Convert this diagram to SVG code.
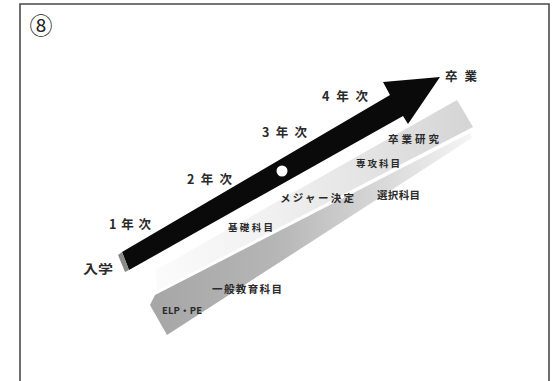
<svg xmlns="http://www.w3.org/2000/svg" width="560" height="381" viewBox="0 0 560 381">
<style>
  .t{font-family:"Noto Sans CJK JP","Noto Sans",sans-serif;font-weight:700;fill:#2a2a2a;dominant-baseline:central}
  .yr{font-size:12.5px}
  .sm{font-size:9.5px}
  .md{font-size:10.5px}
</style>
<defs>
  <linearGradient id="gUpper" gradientUnits="userSpaceOnUse" x1="156" y1="0" x2="473" y2="0">
    <stop offset="0" stop-color="#fbfbfb"/>
    <stop offset="0.35" stop-color="#f1f1f1"/>
    <stop offset="0.7" stop-color="#e2e2e2"/>
    <stop offset="1" stop-color="#d4d4d4"/>
  </linearGradient>
  <linearGradient id="gLower" gradientUnits="userSpaceOnUse" x1="150" y1="0" x2="470" y2="0">
    <stop offset="0" stop-color="#a6a6a6"/>
    <stop offset="0.4" stop-color="#b6b6b6"/>
    <stop offset="0.72" stop-color="#d8d8d8"/>
    <stop offset="1" stop-color="#f4f4f4"/>
  </linearGradient>
</defs>
<rect width="560" height="381" fill="#ffffff"/>
<path d="M20,381 V4 H549 V381" fill="none" stroke="#4a4a4a" stroke-width="1.6"/>
<text x="41" y="24" style="font-family:'Noto Sans CJK JP','DejaVu Sans',sans-serif;font-size:23px;fill:#222" text-anchor="middle" dominant-baseline="central">⑧</text>

<g id="bands">
  <polygon id="upper-band" points="156,270 457,100 473,127 157,291" fill="url(#gUpper)"/>
  <polygon id="lower-band" points="150,305 155,295 470,133 472,138 167,335" fill="url(#gLower)"/>
</g>

<g id="connectors">
  <polygon id="main-arrow" points="122,252 390,95 383,82 440,77 408,124 403,116 129,270" fill="#0a0a0a"/>
  <polygon points="118,255 122,252 129,270 125,272" fill="#8a8a8a"/>
  <circle cx="282" cy="171" r="5.5" fill="#ffffff"/>
</g>

<g id="n-nyugaku"><text class="t yr" x="83" y="268" textLength="30" lengthAdjust="spacingAndGlyphs">入学</text></g>
<g id="n-1"><text class="t yr" x="109" y="223" textLength="42" lengthAdjust="spacing">1年次</text></g>
<g id="n-2"><text class="t yr" x="187" y="178" textLength="45" lengthAdjust="spacing">2年次</text></g>
<g id="n-3"><text class="t yr" x="262" y="131" textLength="45" lengthAdjust="spacing">3年次</text></g>
<g id="n-4"><text class="t yr" x="322" y="95" textLength="46" lengthAdjust="spacing">4年次</text></g>
<g id="n-sotsugyo"><text class="t yr" x="445" y="75" textLength="32" lengthAdjust="spacing">卒業</text></g>
<g id="n-sotsuken"><text class="t md" x="388" y="138" textLength="51" lengthAdjust="spacing">卒業研究</text></g>
<g id="n-senko"><text class="t sm" x="356" y="163" textLength="44" lengthAdjust="spacing">専攻科目</text></g>
<g id="n-major"><text class="t md" x="280" y="197" textLength="74" lengthAdjust="spacing">メジャー決定</text></g>
<g id="n-sentaku"><text class="t md" x="377" y="194" textLength="43" lengthAdjust="spacing">選択科目</text></g>
<g id="n-kiso"><text class="t sm" x="228" y="227" textLength="45" lengthAdjust="spacing">基礎科目</text></g>
<g id="n-ippan"><text class="t md" x="212" y="288" textLength="70" lengthAdjust="spacing">一般教育科目</text></g>
<g id="n-elp"><text class="t sm" x="162" y="310" textLength="40" lengthAdjust="spacing">ELP・PE</text></g>
</svg>
